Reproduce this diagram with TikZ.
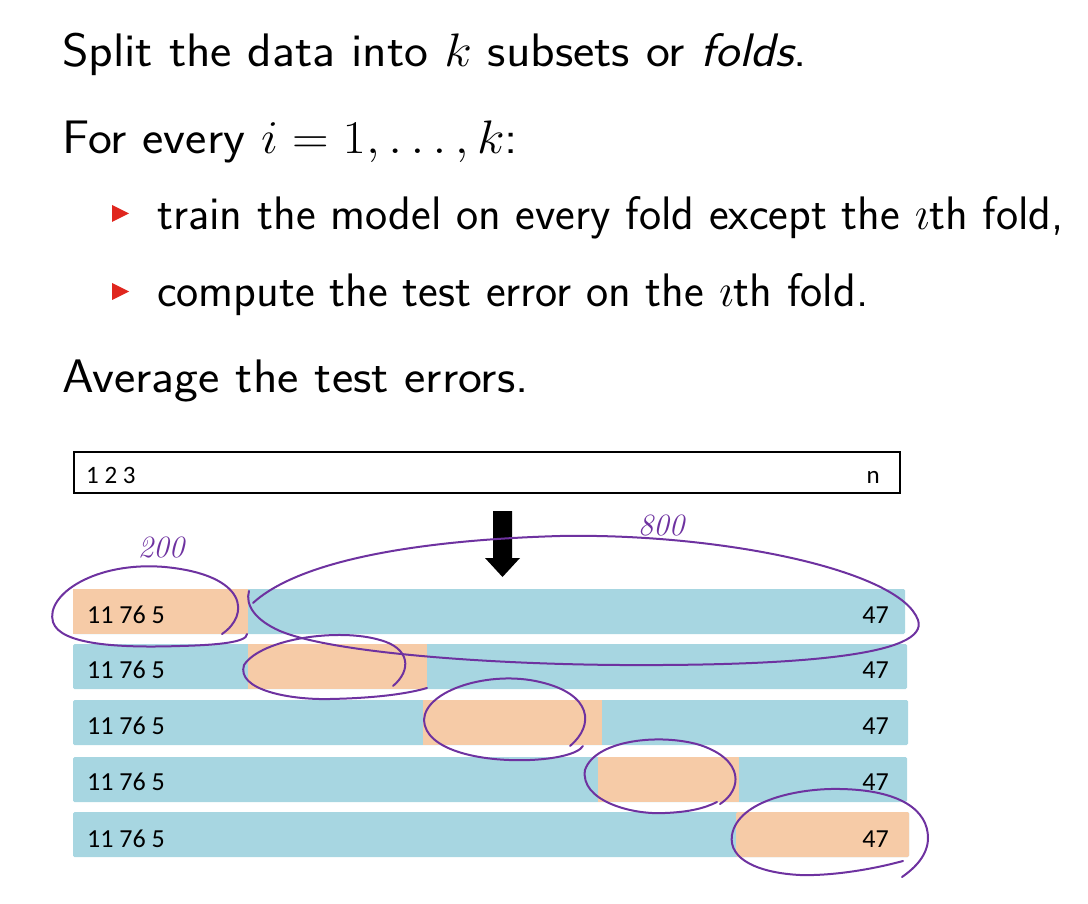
\RequirePackage{fix-cm}
\documentclass[tikz,border=0pt]{standalone}
\usepackage{fontspec}
\newfontfamily\carl{Carlito}
\definecolor{foldblue}{RGB}{167,214,225}
\definecolor{foldorange}{RGB}{246,203,167}
\definecolor{pen}{RGB}{110,50,160}
\definecolor{bulletred}{RGB}{224,38,30}
\newcommand{\wider}[1]{\scalebox{1.08}[1]{#1}}
\tikzset{
  maintext/.style={anchor=base west, inner sep=0pt, font=\fontsize{47}{56}\selectfont\sffamily},
  rowtext/.style={anchor=base west, inner sep=0pt, font=\fontsize{26}{30}\selectfont\carl},
  rowtextr/.style={anchor=base east, inner sep=0pt, font=\fontsize{26}{30}\selectfont\carl},
  boxtext/.style={inner sep=0pt, font=\fontsize{25}{30}\selectfont\carl},
  hand/.style={draw=pen, line width=2pt, line cap=round, line join=round},
  handtext/.style={text=pen, inner sep=0pt, font=\fontsize{31}{32}\selectfont\itshape},
  trainbar/.style={fill=foldblue, rounded corners=1.5pt},
  testbar/.style={fill=foldorange},
}
\begin{document}
\begin{tikzpicture}[x=1pt,y=-1pt]
\useasboundingbox (0,0) rectangle (1088,904);
% text block
\node[maintext] (l1) at (62,67) {\wider{Split the data into $k$ subsets or \textit{folds}.}};
\node[maintext] (l2) at (62,154) {\wider{For every $i=1,\ldots,k$:}};
\fill[bulletred] (112,205) -- (129,213.5) -- (112,222) -- cycle;
\node[maintext] (l3) at (157,230) {train the model on every fold except the $\imath$th fold,};
\fill[bulletred] (112,283) -- (129,291.5) -- (112,300) -- cycle;
\node[maintext] (l4) at (157,307) {compute the test error on the $\imath$th fold.};
\node[maintext] (l5) at (62,392) {\wider{Average the test errors.}};
% data box
\draw[line width=2pt] (74,452) rectangle (900,493);
\node[boxtext, anchor=base west] (d1) at (86,483) {1 2 3};
\node[boxtext, anchor=base east] (dn) at (880,483) {n};
% arrow
\fill[black] (493,511) -- (512,511) -- (512,558) -- (520,558) -- (502.5,577) -- (485,558) -- (493,558) -- cycle;
% rows
\fill[trainbar] (73,589) rectangle (905,634);
\fill[testbar] (73,589) rectangle (248,634);
\fill[trainbar] (73,644) rectangle (907,689);
\fill[testbar] (248,644) rectangle (427,689);
\fill[trainbar] (73,700) rectangle (908,745);
\fill[testbar] (423,700) rectangle (602,745);
\fill[trainbar] (73,757) rectangle (907,802);
\fill[testbar] (598,757) rectangle (739,802);
\fill[trainbar] (73,812) rectangle (909,857);
\fill[testbar, rounded corners=1.5pt] (736,812) rectangle (909,857);
\node[rowtext] (r1a) at (87,623) {11 76 5};
\node[rowtextr] (r1b) at (889,623) {47};
\node[rowtext] (r2a) at (87,678) {11 76 5};
\node[rowtextr] (r2b) at (889,678) {47};
\node[rowtext] (r3a) at (87,734) {11 76 5};
\node[rowtextr] (r3b) at (889,734) {47};
\node[rowtext] (r4a) at (87,790) {11 76 5};
\node[rowtextr] (r4b) at (889,790) {47};
\node[rowtext] (r5a) at (87,847) {11 76 5};
\node[rowtextr] (r5b) at (889,847) {47};
% handwritten annotations
\draw[hand] (222,634) .. controls (250,615) and (248,575) .. (165,567)
  .. controls (95,561) and (45,595) .. (53,622)
  .. controls (60,645) and (120,648) .. (180,646)
  .. controls (220,645) and (247,642) .. (247,634);
\draw[hand] (253,603) .. controls (300,560) and (420,540) .. (560,536)
  .. controls (720,533) and (900,570) .. (918,620)
  .. controls (930,655) and (800,666) .. (620,665)
  .. controls (480,664) and (330,652) .. (280,631)
  .. controls (255,620) and (245,605) .. (249,591);
\draw[hand] (393,686) .. controls (412,670) and (410,648) .. (380,640)
  .. controls (340,628) and (262,638) .. (244,665)
  .. controls (236,690) and (290,700) .. (330,699)
  .. controls (380,698) and (410,693) .. (427,688);
\draw[hand] (570,746) .. controls (595,725) and (592,694) .. (540,682)
  .. controls (490,670) and (425,690) .. (424,720)
  .. controls (425,750) and (480,762) .. (530,760)
  .. controls (555,759) and (578,754) .. (583,746);
\draw[hand] (720,804) .. controls (742,790) and (745,760) .. (700,745)
  .. controls (660,733) and (595,740) .. (585,770)
  .. controls (580,800) and (630,815) .. (665,813)
  .. controls (690,812) and (705,808) .. (717,802);
\draw[hand] (903,861) .. controls (870,870) and (830,876) .. (800,875)
  .. controls (760,873) and (728,860) .. (732,835)
  .. controls (738,800) and (800,788) .. (840,789)
  .. controls (900,790) and (928,810) .. (928,838)
  .. controls (928,855) and (915,868) .. (902,877);
\node[handtext] (n200) at (161,548) {200};
\node[handtext] (n800) at (661,526) {800};
\end{tikzpicture}
\end{document}
